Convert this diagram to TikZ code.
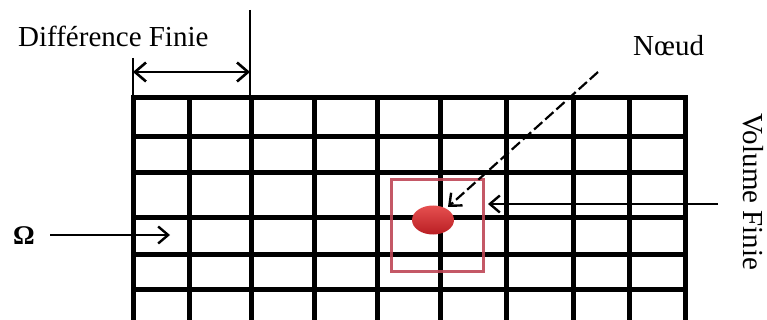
\documentclass[tikz,border=0pt]{standalone}
\usepackage{fontspec}
\setmainfont{Liberation Serif}
\usetikzlibrary{arrows.meta,shapes.geometric}
\definecolor{sqred}{RGB}{190,70,85}
\definecolor{dotlight}{RGB}{230,80,80}
\definecolor{dotdark}{RGB}{185,30,35}
\begin{document}
\begin{tikzpicture}[x=1pt,y=-1pt,
  gridline/.style={line width=5pt, line cap=rect},
  lbl/.style={font=\fontsize{29}{31}\selectfont, inner sep=0pt},
  thinline/.style={line width=1.5pt},
  barb/.style={-{Straight Barb[length=10pt,width=17pt,line width=2.4pt]}},
  dbarb/.style={{Straight Barb[length=11pt,width=19pt,line width=2.6pt]}-{Straight Barb[length=11pt,width=19pt,line width=2.6pt]}}
]
\useasboundingbox (0,0) rectangle (767,320);
% grid
\foreach \x in {133,189,251,314,377,440,506,573,629,685}
  \draw[gridline] (\x,98) -- (\x,325);
\foreach \y in {98,137,173,217,254,289}
  \draw[gridline] (133,\y) -- (685,\y);
% finite volume square and node
\node[draw=sqred, line width=3pt, minimum size=92pt, inner sep=0pt, draw opacity=0.9] (vol) at (437.5,225.5) {};
\node[ellipse, minimum width=42pt, minimum height=29pt, inner sep=0pt, top color=dotlight, bottom color=dotdark, draw=none] (dot) at (433,220) {};
% labels
\node[lbl, anchor=base west] (diff) at (18,47) {Différence Finie};
\node[lbl, anchor=base west] (noeud) at (633,56) {Nœud};
\node[lbl, rotate=-90] (volf) at (753,192) {Volume Finie};
\node[font=\fontsize{27}{29}\selectfont\bfseries, inner sep=0pt] (omega) at (24,236) {Ω};
% difference finie dimension
\coordinate (vl1) at (133,58);
\coordinate (vl1b) at (133,98);
\coordinate (vl2) at (250,10);
\coordinate (vl2b) at (250,98);
\draw[thinline] (vl1) -- (vl1b);
\draw[thinline] (vl2) -- (vl2b);
\coordinate (dl) at (133,72);
\coordinate (dr) at (250,72);
\draw[line width=2.6pt, dbarb] (dl) -- (dr);
% noeud arrow
\coordinate (nstart) at (598,72);
\coordinate (ntip) at (448,207);
\draw[line width=2.2pt, dash pattern=on 11pt off 4pt, barb] (nstart) -- (ntip);
% volume finie arrow
\coordinate (vstart) at (718,204);
\coordinate (vtip) at (488,204);
\draw[thinline, barb] (vstart) -- (vtip);
% omega arrow
\coordinate (ostart) at (50,235);
\coordinate (otip) at (170,235);
\draw[line width=2.2pt, barb] (ostart) -- (otip);
\end{tikzpicture}
\end{document}
